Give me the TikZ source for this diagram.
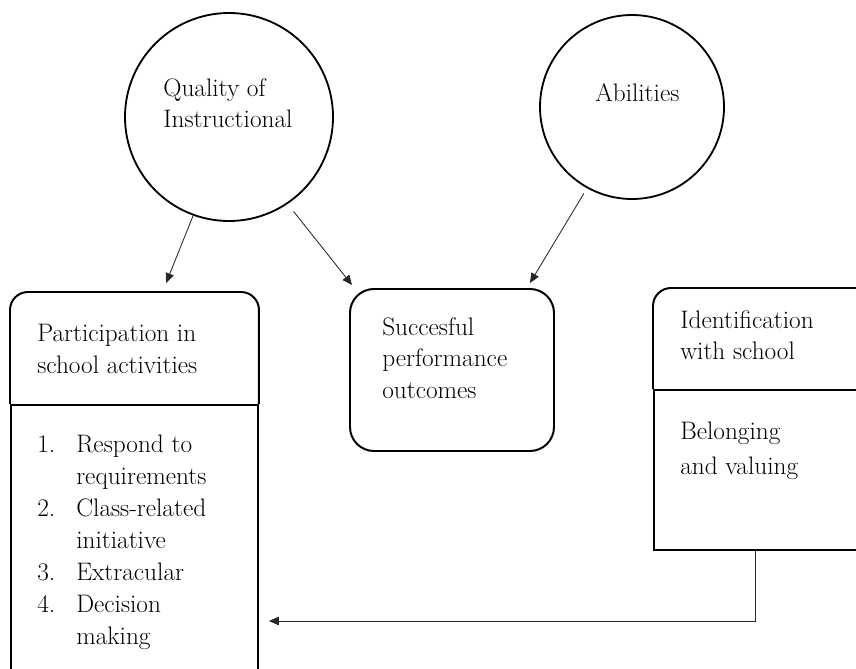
\documentclass[tikz,border=0pt]{standalone}
\usepackage{tikz}
\usetikzlibrary{arrows.meta,positioning}

\begin{document}
\begin{tikzpicture}[
    every node/.style={inner sep=0pt},
    txt/.style={anchor=north west, align=left, font=\fontsize{18}{22.7}\selectfont},
    bubble/.style={circle, draw, line width=1.3pt},
    box/.style={rectangle, anchor=north west, line width=1.4pt},
    conn/.style={-{Triangle[length=7pt,width=6pt]}, line width=0.6pt, black!85}
]
    % Canvas
    \useasboundingbox (0,0) rectangle (21.4,16.7);
    \clip (0,0) rectangle (21.4,16.7);

    % Circles
    \node[bubble, minimum size=5.2cm] (quality) at (5.725,13.775) {};
    \node[bubble, minimum size=4.6cm] (abil) at (15.8,14.025) {};
    \node[txt] (qualitytxt) at ([shift={(-1.65,0.975)}]quality.center) {Quality of\\Instructional};
    \node[txt] (abiltxt) at ([shift={(-0.925,0.6)}]abil.center) {Abilities};

    % Participation box
    \node[box, minimum width=6.175cm, minimum height=2.75cm] (parthead) at (0.25,9.4) {};
    \node[box, draw, minimum width=6.175cm, minimum height=7cm] (partbody) at (parthead.south west) {};
    \draw[line width=1.4pt, rounded corners=0.45cm] (parthead.south west) |- (parthead.north) -| (parthead.south east);
    \node[txt] (parttxt) at ([shift={(0.675,-0.8)}]parthead.north west) {Participation in\\school activities};
    \node[txt] (partlist) at ([shift={(0.675,-0.65)}]partbody.north west) {%
        \begin{tabular}{@{}p{0.975cm}@{}l@{}}
            1. & Respond to\\
               & requirements\\
            2. & Class-related\\
               & initiative\\
            3. & Extracular\\
            4. & Decision\\
               & making
        \end{tabular}};

    % Performance box
    \node[box, draw, rounded corners=0.6cm, minimum width=5.1cm, minimum height=4.05cm] (perf) at (8.725,9.5) {};
    \node[txt] (perftxt) at ([shift={(0.825,-0.725)}]perf.north west) {Succesful\\performance\\outcomes};

    % Identification box
    \node[box, minimum width=5.675cm, minimum height=2.475cm] (idhead) at (16.325,9.5) {};
    \node[box, draw, minimum width=5.675cm, minimum height=4cm] (idbody) at (idhead.south west) {};
    \draw[line width=1.4pt, rounded corners=0.45cm] (idhead.south west) |- (idhead.north) -| (idhead.south east);
    \node[txt] (idtxt) at ([shift={(0.675,-0.55)}]idhead.north west) {Identification\\with school};
    \node[txt, font=\fontsize{18}{24.8}\selectfont] (belongtxt) at ([shift={(0.675,-0.825)}]idbody.north west) {Belonging\\and valuing};

    % Connectors
    \draw[conn] (quality.250) -- ([shift={(0.79,0.225)}]parthead.north);
    \draw[conn, shorten <=0.24cm] (quality.304) -- ([shift={(0.075,0.075)}]perf.north west);
    \draw[conn, shorten <=0.15cm] (abil.241) -- ([shift={(-0.625,0.125)}]perf.north east);
    \draw[conn, shorten >=0.25cm] ([xshift=2.55cm]idbody.south west) |- (partbody.east |- 0,1.175);
\end{tikzpicture}
\end{document}
